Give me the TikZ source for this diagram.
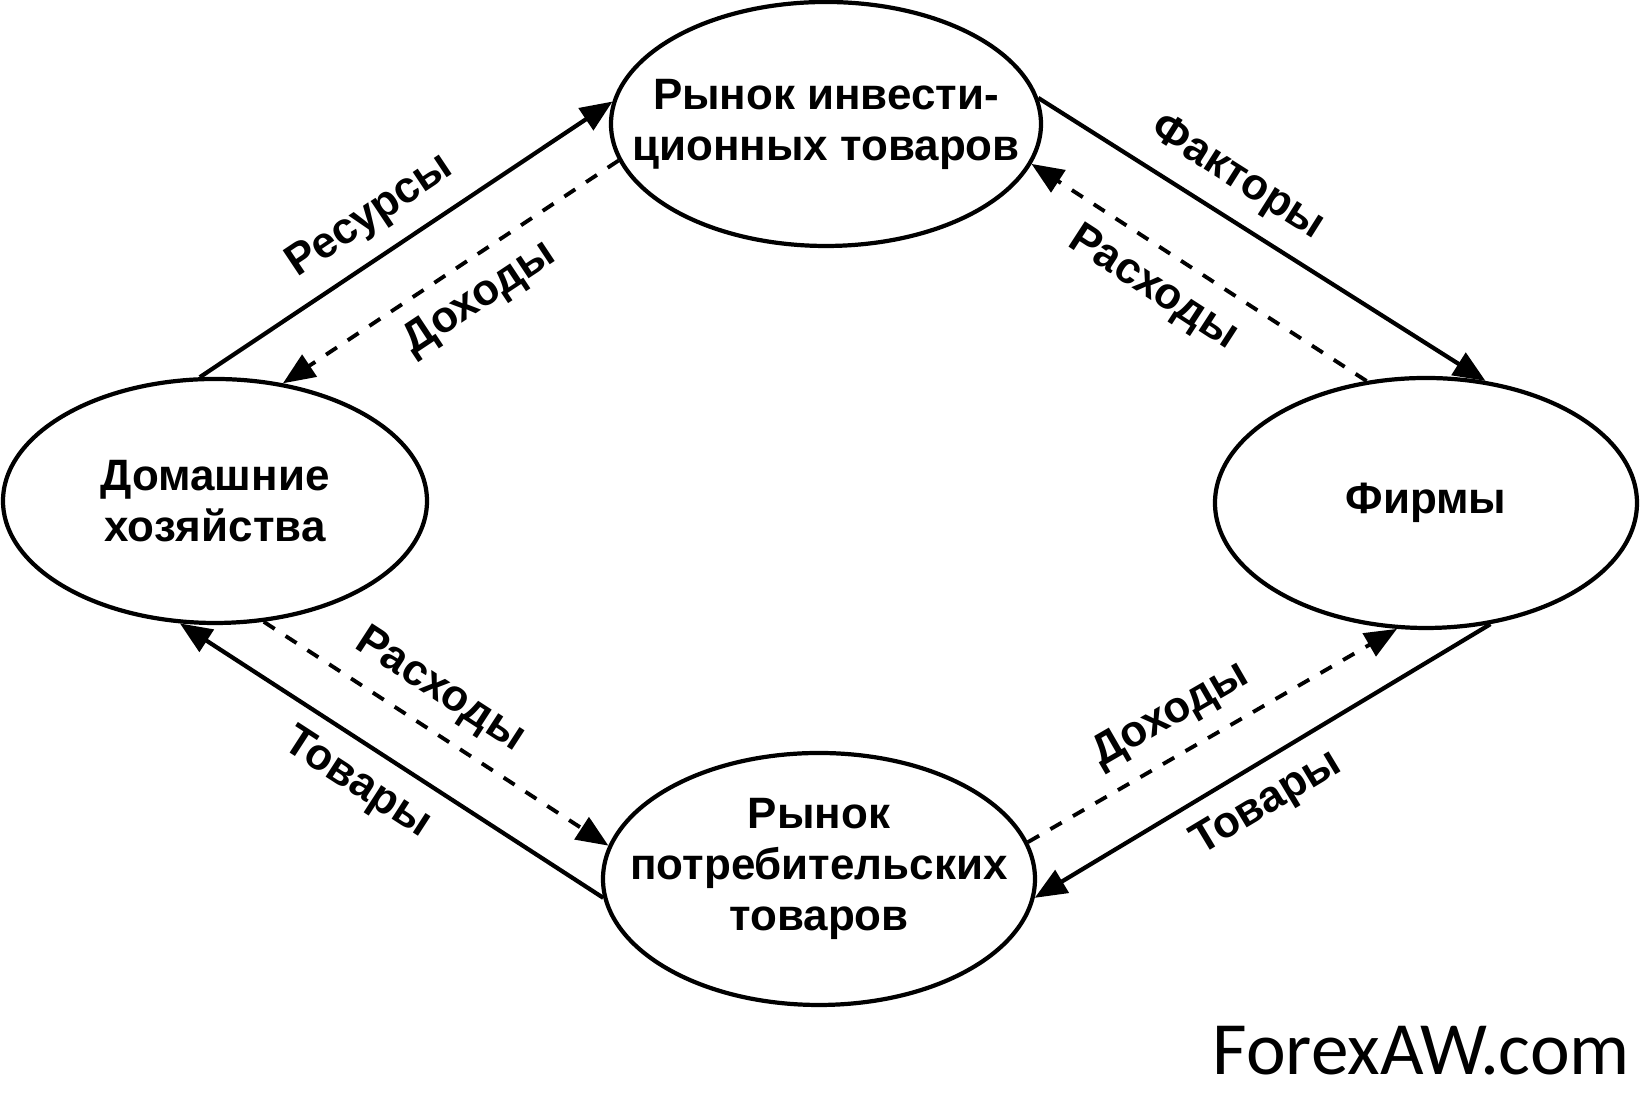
\documentclass[tikz,border=0pt]{standalone}
\usepackage{fontspec}
\setmainfont{Liberation Sans}
\newfontfamily\sitefont{Carlito}
\usepackage{tikz}
\usetikzlibrary{
  positioning,
  arrows.meta,
  shapes.geometric
}
\tikzset{
  % Market or sector ellipse
  oval/.style={
    ellipse,
    draw=black,
    line width=1.2pt,
    inner sep=0pt
  },
  % Text inside an ellipse
  ovaltext/.style={
    align=center,
    inner sep=0pt,
    font=\fontsize{12.5}{14.5}\selectfont\bfseries
  },
  % Flow of goods and resources
  flow/.style={
    draw=black,
    line width=1.2pt,
    -{Triangle[length=3.2mm,width=2.6mm]}
  },
  % Flow of money
  money/.style={
    draw=black,
    line width=1.1pt,
    dash pattern=on 1.3mm off 1.3mm,
    -{Triangle[length=3.2mm,width=2.6mm]}
  },
  % Label along a flow
  flowlabel/.style={
    sloped,
    inner sep=0pt,
    font=\fontsize{12.5}{14.5}\selectfont\bfseries
  }
}

\begin{document}
\begin{tikzpicture}
  \useasboundingbox (0,0) rectangle (16.44,11.06);
  % Sectors and markets
  \node[oval, minimum width=4.30cm, minimum height=2.44cm,
    label={[ovaltext]center:{Рынок инвести-\\ционных товаров}}] (inv) at (8.26,9.82) {};
  \node[oval, minimum width=4.24cm, minimum height=2.44cm,
    label={[ovaltext]center:{Домашние\\хозяйства}}] (hh) at (2.15,6.05) {};
  \node[oval, minimum width=4.22cm, minimum height=2.50cm,
    label={[ovaltext]center:{Фирмы}}] (firm) at (14.26,6.03) {};
  \node[oval, minimum width=4.32cm, minimum height=2.52cm,
    label={[ovaltext, yshift=1mm]center:{Рынок\\потребительских\\товаров}}] (cons) at (8.19,2.27) {};
  % Upper loop
  \draw[flow] (hh.97) -- node[flowlabel, pos=0.466, above=1.7mm] {Ресурсы} (inv.174);
  \draw[money] (inv.190) -- node[flowlabel, pos=0.477, below=1.7mm] {Доходы} (hh.60);
  \draw[flow] (inv.7) -- node[flowlabel, pos=0.399, above=1.7mm] {Факторы} (firm.64);
  \draw[money] (firm.116) -- node[flowlabel, pos=0.575, below=1.7mm] {Расходы} (inv.-11);
  % Lower loop
  \draw[money] (hh.-68) -- node[flowlabel, pos=0.451, above=1.7mm] {Расходы} (cons.171);
  \draw[flow] (cons.185) -- node[flowlabel, pos=0.533, below=1.7mm] {Товары} (hh.254);
  \draw[money] (cons.10) -- node[flowlabel, pos=0.439, above=1.7mm] {Доходы} (firm.257);
  \draw[flow] (firm.298) -- node[flowlabel, pos=0.534, below=1.7mm] {Товары} (cons.355);
  % Site name
  \node[anchor=base west, inner sep=0pt, font=\sitefont\fontsize{21.4}{25}\selectfont] (site) at (12.12,0.31) {ForexAW.com};
\end{tikzpicture}
\end{document}
